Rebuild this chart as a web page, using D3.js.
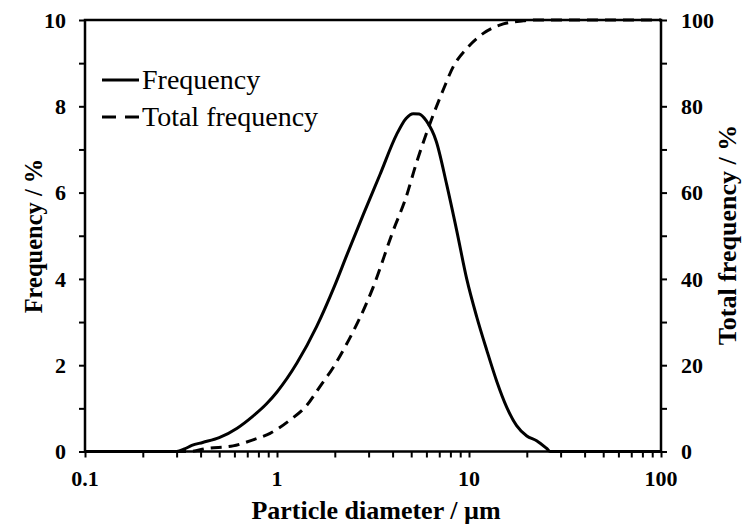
<!DOCTYPE html>
<html><head><meta charset="utf-8">
<script src="https://cdn.jsdelivr.net/npm/d3@7"></script>
<style>body{margin:0;background:#fff}svg{display:block}</style>
</head><body>
<svg id="c" width="744" height="529"></svg>
<script>
// Frequency (%) vs particle diameter (µm)
const freqDiam = [0.1,0.3,0.33,0.36,0.41,0.5,0.62,0.75,0.88,1.0,1.27,1.61,2.0,2.31,2.82,3.44,4.2,4.7,5.13,5.5,6.0,6.75,7.65,8.63,9.73,10.97,12.37,13.94,15.71,17.7,20.0,22.5,25.4,26.5,100];
const freqVals = [0,0,0.06,0.14,0.21,0.32,0.54,0.82,1.1,1.38,2.05,2.9,3.85,4.55,5.5,6.42,7.35,7.72,7.83,7.82,7.66,7.19,6.19,5.12,4.0,3.12,2.35,1.63,1.03,0.6,0.36,0.25,0.07,0,0];
// Total (cumulative) frequency (%)
const cumDiam = [0.1,0.35,0.43,0.59,0.75,0.92,1.17,1.43,1.67,1.97,2.26,3.17,4.03,4.7,5.3,6.1,7.37,8.28,9.73,11.87,15.1,19.2,22,100];
const cumVals = [0,0,0.7,1.3,2.7,4.2,7.3,10.7,15,19.6,24.2,38.1,51.2,58.9,66.6,74.6,84,89.2,93.4,96.9,99.1,99.8,100,100];
const xTickLabels = [0.1,1,10,100];
const yLeftTicks = [0,2,4,6,8,10];
const yRightTicks = [0,20,40,60,80,100];
const legendLabels = ["Frequency","Total frequency"];

const svg = d3.select("#c");
const L=85, R=661, T=20, B=451.5;
const x = d3.scaleLog().domain([0.1,100]).range([L,R]);
const yL = d3.scaleLinear().domain([0,10]).range([B,T]);
const yR = d3.scaleLinear().domain([0,100]).range([B,T]);
const font = "'Liberation Serif','Times New Roman',serif";

const xMinor = [];
for (let d=0.1; d<100; d*=10) for (let k=1;k<=10;k++) xMinor.push(+(d*k).toPrecision(3));
const xAxis = d3.axisBottom(x).tickValues(Array.from(new Set(xMinor))).tickSize(6).tickFormat("");
const gx = svg.append("g").attr("transform",`translate(0,${B})`).call(xAxis);
gx.select(".domain").remove();
gx.selectAll("line").attr("stroke","#000").attr("stroke-width",2);

svg.append("g").selectAll("text").data(xTickLabels).join("text")
  .attr("x",d=>x(d)).attr("y",486).attr("text-anchor","middle")
  .attr("font-family",font).attr("font-weight","bold").attr("font-size",22)
  .text(d=>d);

const gl = svg.append("g").attr("transform",`translate(${L},0)`)
  .call(d3.axisLeft(yL).tickValues(d3.range(0,11)).tickSize(6).tickFormat(""));
gl.select(".domain").remove();
gl.selectAll("line").attr("stroke","#000").attr("stroke-width",2);
svg.append("g").selectAll("text").data(yLeftTicks).join("text")
  .attr("x",66).attr("y",d=>yL(d)).attr("dy","0.35em").attr("text-anchor","end")
  .attr("font-family",font).attr("font-weight","bold").attr("font-size",22)
  .text(d=>d);

const gr = svg.append("g").attr("transform",`translate(${R},0)`)
  .call(d3.axisRight(yR).tickValues(d3.range(0,101,10)).tickSize(6).tickFormat(""));
gr.select(".domain").remove();
gr.selectAll("line").attr("stroke","#000").attr("stroke-width",2);
svg.append("g").selectAll("text").data(yRightTicks).join("text")
  .attr("x",681).attr("y",d=>yR(d)).attr("dy","0.35em").attr("text-anchor","start")
  .attr("font-family",font).attr("font-weight","bold").attr("font-size",22)
  .text(d=>d);

svg.append("rect").attr("x",L).attr("y",T).attr("width",R-L).attr("height",B-T)
  .attr("fill","none").attr("stroke","#000").attr("stroke-width",2.5);

const lineF = d3.line().x((d,i)=>x(freqDiam[i])).y(d=>yL(d)).curve(d3.curveMonotoneX);
const lineC = d3.line().x((d,i)=>x(cumDiam[i])).y(d=>yR(d)).curve(d3.curveMonotoneX);
svg.append("path").attr("d",lineF(freqVals)).attr("fill","none").attr("stroke","#000").attr("stroke-width",3);
svg.append("path").attr("d",lineC(cumVals)).attr("fill","none").attr("stroke","#000").attr("stroke-width",3)
  .attr("stroke-dasharray","11,7");

svg.append("text").attr("x",(L+R)/2 + 3).attr("y",519).attr("text-anchor","middle")
  .attr("font-family",font).attr("font-weight","bold").attr("font-size",26)
  .text("Particle diameter / µm");
svg.append("text").attr("transform","translate(42,236) rotate(-90)").attr("text-anchor","middle")
  .attr("font-family",font).attr("font-weight","bold").attr("font-size",24.5)
  .text("Frequency / %");
svg.append("text").attr("transform","translate(736,235) rotate(-90)").attr("text-anchor","middle")
  .attr("font-family",font).attr("font-weight","bold").attr("font-size",26)
  .text("Total frequency / %");

const lg = svg.append("g");
const rowsY = [80,117];
lg.selectAll("line").data(legendLabels).join("line")
  .attr("x1",102).attr("x2",139).attr("y1",(d,i)=>rowsY[i]).attr("y2",(d,i)=>rowsY[i])
  .attr("stroke","#000").attr("stroke-width",3)
  .attr("stroke-dasharray",(d,i)=>i===1?"14,9":null);
lg.selectAll("text").data(legendLabels).join("text")
  .attr("x",142).attr("y",(d,i)=>rowsY[i]+9)
  .attr("font-family",font).attr("font-size",28)
  .text(d=>d);
</script>
</body></html>
